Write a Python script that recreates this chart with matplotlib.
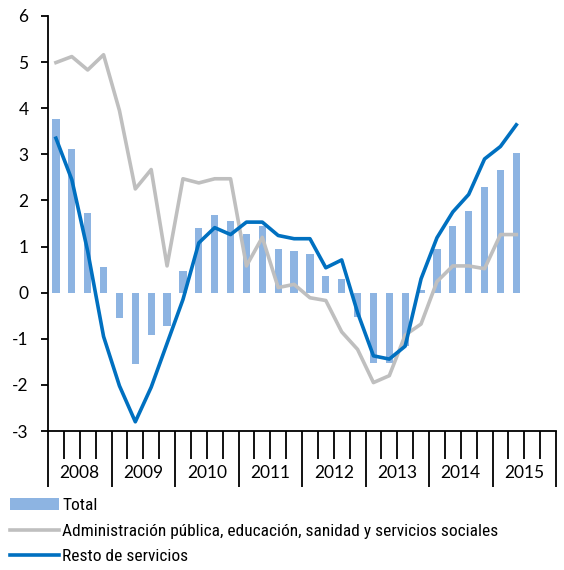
import matplotlib
matplotlib.use("Agg")
import matplotlib.pyplot as plt
import matplotlib.transforms as mtransforms
from matplotlib import font_manager
import numpy as np

plt.rcParams['font.family'] = ['Lato', 'DejaVu Sans']
plt.rcParams['axes.unicode_minus'] = False

years = ["2008", "2009", "2010", "2011", "2012", "2013", "2014", "2015"]

total = [3.77, 3.11, 1.72, 0.55,
         -0.56, -1.54, -0.92, -0.72,
         0.46, 1.40, 1.68, 1.56,
         1.28, 1.44, 0.95, 0.90,
         0.83, 0.37, 0.29, -0.52,
         -1.53, -1.52, -1.15, 0.06,
         0.95, 1.44, 1.77, 2.29,
         2.66, 3.03]

admin = [4.99, 5.12, 4.83, 5.16,
         3.95, 2.25, 2.67, 0.58,
         2.47, 2.38, 2.47, 2.47,
         0.58, 1.20, 0.11, 0.18,
         -0.11, -0.17, -0.85, -1.23,
         -1.95, -1.80, -0.92, -0.68,
         0.24, 0.58, 0.58, 0.52,
         1.26, 1.26]

resto = [3.35, 2.45, 0.90, -0.95,
         -2.02, -2.80, -2.05, -1.10,
         -0.15, 1.08, 1.41, 1.26,
         1.53, 1.53, 1.24, 1.17,
         1.17, 0.54, 0.71, -0.43,
         -1.37, -1.44, -1.16, 0.30,
         1.19, 1.75, 2.13, 2.90,
         3.17, 3.64]

labels = ["Total",
          "Administración pública, educación, sanidad y servicios sociales",
          "Resto de servicios"]

W, H = 564, 570
fig = plt.figure(figsize=(W / 100, H / 100), dpi=100)
ax = fig.add_axes([48 / W, 1 - 431 / H, (556 - 48) / W, (431 - 16) / H])

x = np.arange(len(total)) + 0.5
bars = ax.bar(x, total, width=0.46, color="#8DB4E2", zorder=2, label=labels[0])
l1, = ax.plot(x, admin, color="#BFBFBF", lw=2.6, zorder=3, label=labels[1])
l2, = ax.plot(x, resto, color="#0070C0", lw=2.6, zorder=4, label=labels[2])

ax.set_xlim(0, 4 * len(years))
ax.set_ylim(-3, 6)
ax.set_yticks(range(-3, 7))
ax.spines['top'].set_visible(False)
ax.spines['right'].set_visible(False)
ax.spines['left'].set_linewidth(1.3)
ax.spines['bottom'].set_linewidth(1.3)

ax.tick_params(axis='y', direction='out', length=5, width=1.3, pad=9,
               labelsize=12.5, colors='black')
ax.set_xticks(np.arange(0, 4 * len(years) + 1, 4))
ax.set_xticks(np.arange(0, 4 * len(years) + 1, 1), minor=True)
ax.set_xticklabels([])
ax.tick_params(axis='x', which='major', direction='out', length=40, width=1.3)
ax.tick_params(axis='x', which='minor', direction='out', length=20, width=1.3)

trans = mtransforms.blended_transform_factory(ax.transData, ax.transAxes)
for k, yr in enumerate(years):
    ax.text(4 * k + 2, -42 / 415, yr, transform=trans, ha='center', va='center',
            fontsize=12.5)

# choose a narrow font for the legend if available, fit width of longest label
avail = {f.name for f in font_manager.fontManager.ttflist}
leg_family = 'DejaVu Sans'
for cand in ['Liberation Sans Narrow', 'DejaVu Sans Condensed', 'Roboto Condensed',
             'Open Sans Condensed', 'Noto Sans', 'Lato']:
    if cand in avail:
        leg_family = cand
        break
renderer = fig.canvas.get_renderer()
probe = fig.text(0, 0, labels[1], family=leg_family, fontsize=12)
wpx = probe.get_window_extent(renderer).width
probe.remove()
leg_size = min(12.5, 12 * 436 / wpx)

fig.legend(handles=[bars, l1, l2], labels=labels, loc='center left',
           bbox_to_anchor=(10 / W, 1 - 531 / H), frameon=False,
           borderpad=0, borderaxespad=0, handlelength=49 / (leg_size * 100 / 72),
           handletextpad=0.2, labelspacing=(26 / (leg_size * 100 / 72)) - 0.9,
           prop={'family': [leg_family, 'DejaVu Sans'], 'size': leg_size})

fig.savefig("out.png", dpi=100)
